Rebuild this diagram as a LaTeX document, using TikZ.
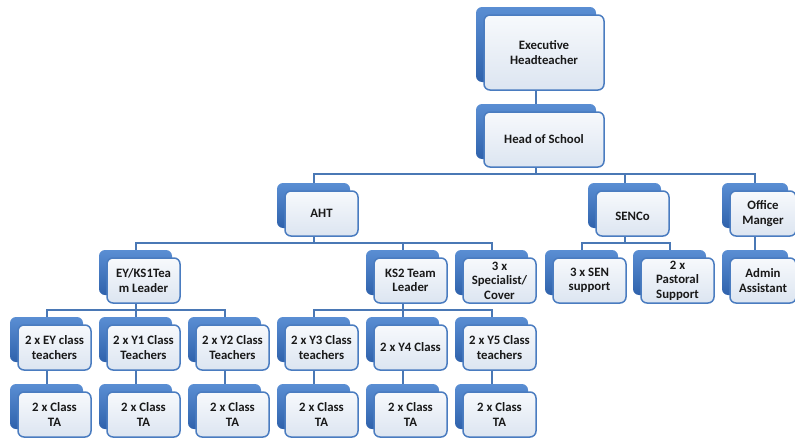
\documentclass[tikz,border=0pt]{standalone}
\usepackage{fontspec}
\setmainfont{Carlito}
\definecolor{backtop}{HTML}{5A8ED3}
\definecolor{backbot}{HTML}{2F62AC}
\definecolor{fronttop}{HTML}{F7F9FC}
\definecolor{frontbot}{HTML}{DCE5F1}
\definecolor{frame}{HTML}{4A7CC0}
\definecolor{linkblue}{HTML}{4A78B5}
\pgfdeclarelayer{bg}
\pgfsetlayers{bg,main}
% #1 name, #2 left, #3 top, #4 width, #5 height, #6 text
\newcommand{\staffbox}[6]{%
  \node[backbox, minimum width=#4pt, minimum height=#5pt] (#1) at ({#2+#4/2},{#3+#5/2}) {};
  \node[frontbox, minimum width=#4pt, minimum height=#5pt] (#1-f) at ({#2+#4/2+8},{#3+#5/2+8}) {#6};
}
\begin{document}
\begin{tikzpicture}[x=1pt,y=-1pt,
  backbox/.style={rounded corners=6pt, inner sep=0pt, outer sep=0pt, draw=none,
    top color=backtop, bottom color=backbot},
  frontbox/.style={rounded corners=6pt, inner sep=0pt, outer sep=0pt, draw=frame,
    line width=1.5pt, top color=fronttop, bottom color=frontbot, align=center,
    font=\bfseries\fontsize{12.8}{14.5}\selectfont, text=black!90},
  conn/.style={draw=linkblue, line width=2pt}]
\useasboundingbox (0,0) rectangle (795,439);

% top of the tree
\staffbox{exec}{476}{7}{120}{75}{Executive\\Headteacher}
\staffbox{hos}{476}{104}{120}{55}{Head of School}

% senior posts
\staffbox{aht}{277}{183}{73}{45}{AHT}
\staffbox{senco}{588}{183}{73}{45}{~\\SENCo}
\staffbox{office}{722}{183}{66}{45}{Office\\Manger}

% team leaders and support
\staffbox{eyks}{99}{250}{73}{45}{EY/KS1Tea\\m Leader}
\staffbox{kstwo}{366}{250}{73}{45}{KS2 Team\\Leader}
\staffbox{spec}{455}{250}{73}{45}{3 x\\Specialist/\\Cover}
\staffbox{sen}{545}{250}{73}{45}{3 x SEN\\support}
\staffbox{past}{633}{250}{73}{45}{2 x\\Pastoral\\Support}
\staffbox{admin}{722}{250}{66}{45}{Admin\\Assistant}

% class teachers
\staffbox{ey}{10}{317}{73}{45}{2 x EY class\\teachers}
\staffbox{yone}{99}{317}{73}{45}{2 x Y1 Class\\Teachers}
\staffbox{ytwo}{188}{317}{73}{45}{2 x Y2 Class\\Teachers}
\staffbox{ythree}{277}{317}{73}{45}{2 x Y3 Class\\teachers}
\staffbox{yfour}{366}{317}{73}{45}{2 x Y4 Class}
\staffbox{yfive}{455}{317}{73}{45}{2 x Y5 Class\\teachers}

% teaching assistants
\staffbox{taey}{10}{384}{73}{45}{2 x Class\\TA}
\staffbox{taone}{99}{384}{73}{45}{2 x Class\\TA}
\staffbox{tatwo}{188}{384}{73}{45}{2 x Class\\TA}
\staffbox{tathree}{277}{384}{73}{45}{2 x Class\\TA}
\staffbox{tafour}{366}{384}{73}{45}{2 x Class\\TA}
\staffbox{tafive}{455}{384}{73}{45}{2 x Class\\TA}

\begin{pgfonlayer}{bg}
  \fill[white] (0,0) rectangle (795,439);
  \draw[conn] (exec.center) -- (hos.center);
  % head of school to senior posts
  \coordinate (busA) at (hos.center |- 0,174);
  \draw[conn] (hos.center) -- (busA) -| (aht.north);
  \draw[conn] (busA) -| (senco.north);
  \draw[conn] (busA) -| (office.north);
  % AHT to team leaders
  \coordinate (busB) at (aht.center |- 0,243);
  \draw[conn] (aht.center) -- (busB) -| (eyks.north);
  \draw[conn] (busB) -| (kstwo.north);
  \draw[conn] (busB) -| (spec.north);
  % SENCo to support staff
  \coordinate (busC) at (senco.center |- 0,243);
  \draw[conn] (senco.center) -- (busC) -| (sen.north);
  \draw[conn] (busC) -| (past.north);
  \draw[conn] (office.center) -- (admin.north);
  % team leaders to class teachers
  \coordinate (busD) at (eyks.center |- 0,310);
  \draw[conn] (eyks.center) -- (busD) -| (ey.north);
  \draw[conn] (busD) -| (ytwo.north);
  \draw[conn] (busD) -- (yone.north);
  \coordinate (busE) at (kstwo.center |- 0,310);
  \draw[conn] (kstwo.center) -- (busE) -| (ythree.north);
  \draw[conn] (busE) -| (yfive.north);
  \draw[conn] (busE) -- (yfour.north);
  % class teachers to teaching assistants
  \draw[conn] (ey.center) -- (taey.north);
  \draw[conn] (yone.center) -- (taone.north);
  \draw[conn] (ytwo.center) -- (tatwo.north);
  \draw[conn] (ythree.center) -- (tathree.north);
  \draw[conn] (yfour.center) -- (tafour.north);
  \draw[conn] (yfive.center) -- (tafive.north);
\end{pgfonlayer}
\end{tikzpicture}
\end{document}
